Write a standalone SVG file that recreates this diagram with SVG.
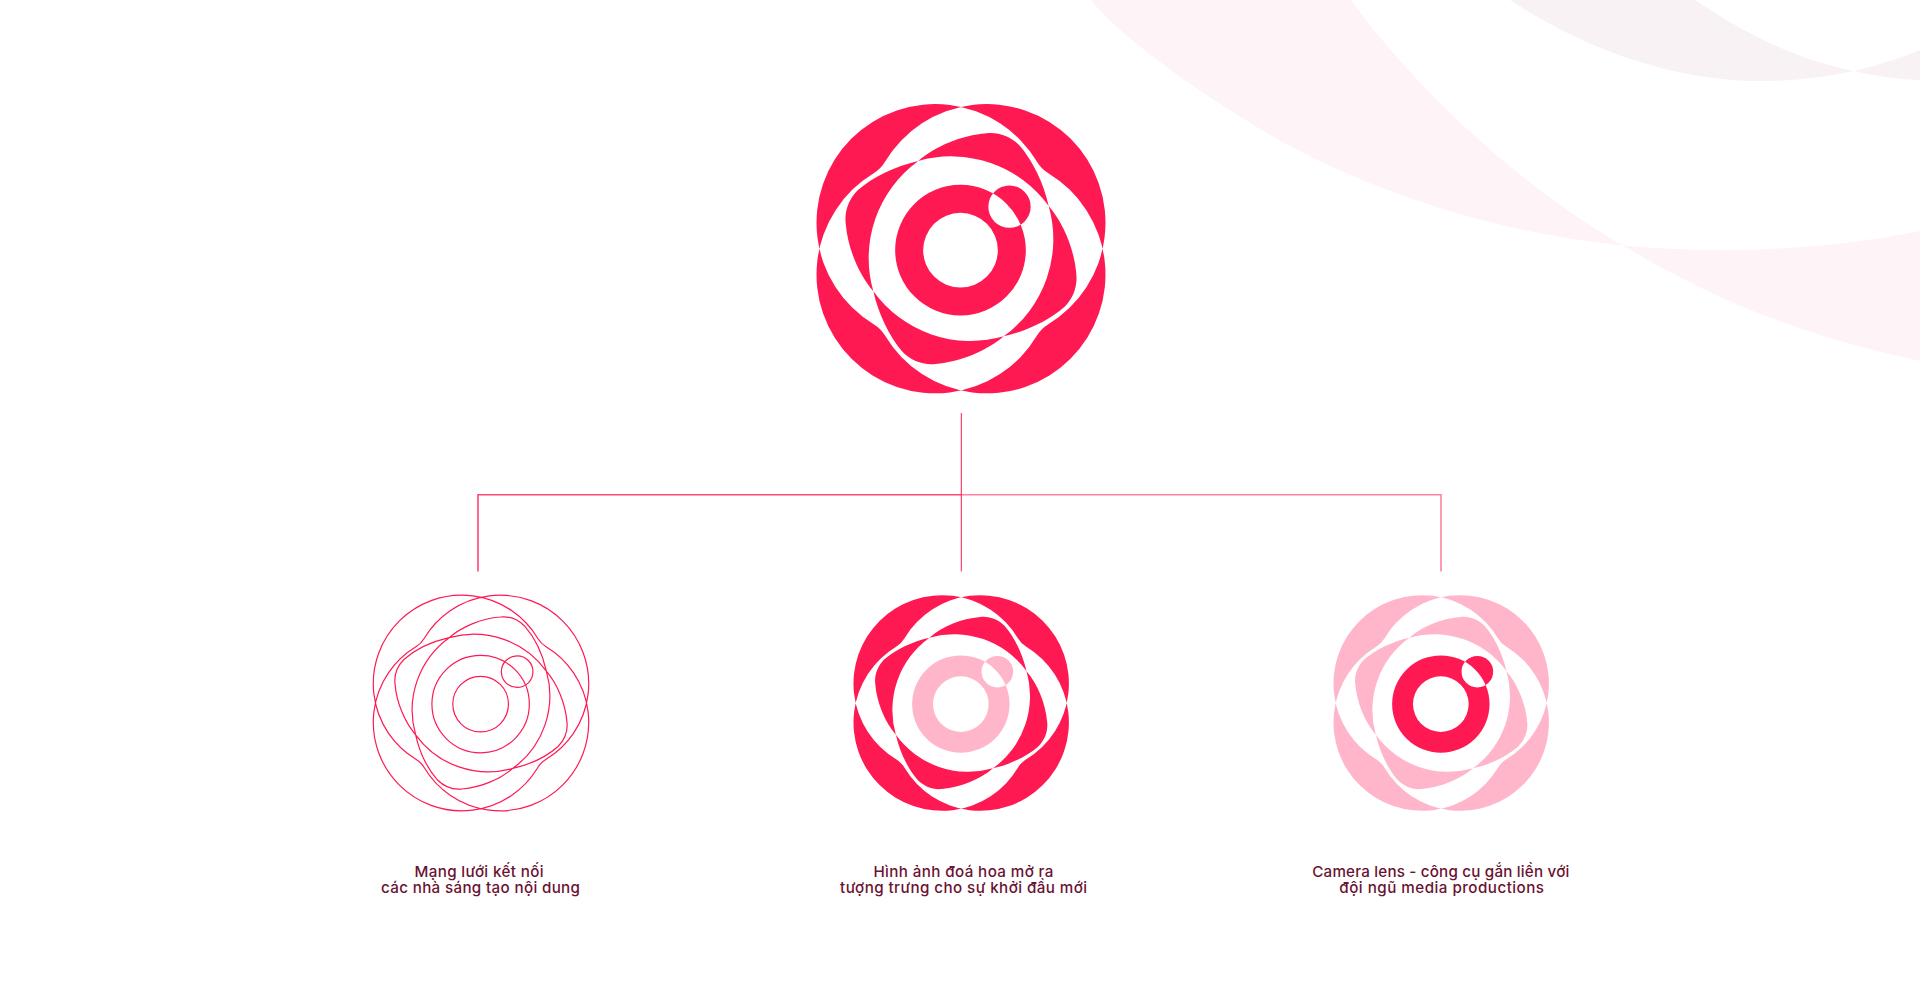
<svg xmlns="http://www.w3.org/2000/svg" width="1920" height="1000" viewBox="0 0 1920 1000">
<style>
.cap{font-family:"Inter","Noto Sans","Liberation Sans",sans-serif;font-size:15.2px;font-weight:500;fill:#6a1232;text-anchor:middle}
.wire{fill:none;stroke:#ff1952;stroke-width:4.8}
.line{fill:none;stroke:#ff1952}
</style>
<defs>
<path id="flower" fill-rule="evenodd" d="M228,-260.8Q240,-240 262,-226.5A356,356 0 1 1 -228,260.8Q-240,240 -262,226.5A356,356 0 1 1 228,-260.8ZM-228,-260.8Q-240,-240 -262,-226.5A356,356 0 1 0 228,260.8Q240,240 262,226.5A356,356 0 1 0 -228,-260.8Z"/>
<path id="petals" fill-rule="evenodd" d="M-128,-263C-78,-306 0,-340 77,-346C115,-350 150,-335 175,-310C215,-265 248,-195 263,-128C306,-78 340,0 346,77C350,115 335,150 310,175C265,215 195,248 128,263C78,306 0,340 -77,346C-115,350 -150,335 -175,310C-215,265 -248,195 -263,128C-306,78 -340,0 -346,-77C-350,-115 -335,-150 -310,-175C-265,-215 -195,-248 -128,-263ZM-128,-263A360,360 0 0 1 263,-128A360,360 0 0 1 128,263A360,360 0 0 1 -263,128A360,360 0 0 1 -128,-263Z"/>
<path id="lens" fill-rule="evenodd" d="M-197.5,4.5a196,196 0 1 0 392,0a196,196 0 1 0 -392,0ZM-113.5,4.5a112,112 0 1 0 224,0a112,112 0 1 0 -224,0ZM82,-126a63.5,63.5 0 1 0 127,0a63.5,63.5 0 1 0 -127,0Z"/>
</defs>
<rect width="1920" height="1000" fill="#fff"/>
<g id="background">
<path fill="#fef3f6" d="M1091,0C1120,36 1190,88 1279,140C1370,191 1500,234 1623,245.6C1560,210 1440,122 1351,0Z"/>
<path fill="#fef3f6" d="M1623,245.6C1690,252 1800,255 1920,231L1920,361C1810,337 1720,304 1623,245.6Z"/>
<path fill="#f8f2f4" d="M1510,0C1570,39.5 1660,81 1762,81C1795,81 1825,77 1854,71C1875,76 1895,79 1920,80L1920,50C1900,58 1878,65.6 1854,71C1790,58 1740,30 1695,0Z"/>
</g>
<g id="connectors">
<path class="line" stroke-width="1" d="M961.3,413V571.5"/>
<path class="line" stroke-width="1.6" stroke-opacity=".8" d="M961.3,494.7H478M478,493.9V571.5"/>
<path class="line" stroke-width="1.6" stroke-opacity=".55" d="M961.3,494.7H1441M1441,493.9V571.5"/>
</g>
<g id="logo-main" transform="translate(961,248.67) scale(.33333)" fill="#ff1952">
<use href="#flower"/><use href="#petals"/><use href="#lens"/>
</g>
<g id="logo-network" class="wire" transform="translate(481,703) scale(.2485)">
<use href="#flower"/><use href="#petals"/><use href="#lens"/>
</g>
<g id="logo-flower" transform="translate(961.2,703) scale(.2485)">
<use href="#flower" fill="#ff1952"/><use href="#petals" fill="#ff1952"/><use href="#lens" fill="#ffb6cb"/>
</g>
<g id="logo-camera" transform="translate(1441.2,703) scale(.2485)">
<use href="#flower" fill="#ffb6cb"/><use href="#petals" fill="#ffb6cb"/><use href="#lens" fill="#ff1952"/>
</g>
<g id="caption-1"><text class="cap" x="479" y="876.5" textLength="129" lengthAdjust="spacing">Mạng lưới kết nối</text><text class="cap" x="480.5" y="893" textLength="199" lengthAdjust="spacing">các nhà sáng tạo nội dung</text></g>
<g id="caption-2"><text class="cap" x="963.4" y="876.5" textLength="180" lengthAdjust="spacing">Hình ảnh đoá hoa mở ra</text><text class="cap" x="963.6" y="893" textLength="247" lengthAdjust="spacing">tượng trưng cho sự khởi đầu mới</text></g>
<g id="caption-3"><text class="cap" x="1440.8" y="876.5" textLength="257" lengthAdjust="spacing">Camera lens - công cụ gắn liền với</text><text class="cap" x="1441.7" y="893" textLength="204.7" lengthAdjust="spacing">đội ngũ media productions</text></g>
</svg>
